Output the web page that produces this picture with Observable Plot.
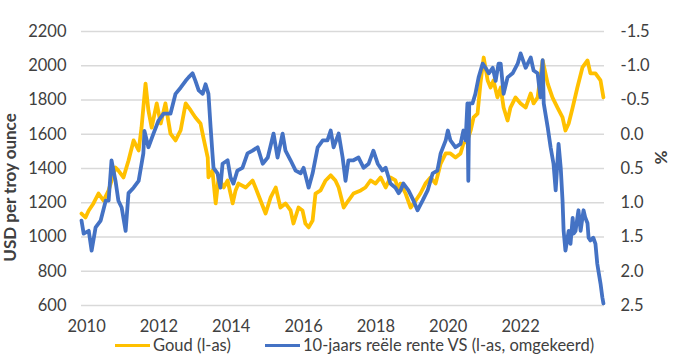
<!DOCTYPE html>
<html><head><meta charset="utf-8">
<script src="https://cdn.jsdelivr.net/npm/d3@7"></script>
<script src="https://cdn.jsdelivr.net/npm/@observablehq/plot@0.6"></script>
<style>
body{margin:0;background:#fff;font-family:Lato, sans-serif;}
#chart{position:relative;width:680px;height:360px;overflow:hidden;}
.sw{position:absolute;height:3.5px;width:35px;}
.lt{position:absolute;font-size:16.5px;color:#404040;line-height:16px;white-space:nowrap;}
</style></head><body><div id="chart"></div>
<script>
// Gold price (USD per troy ounce), x in displayed axis years
const goldYears = [2009.86,2009.97,2010.06,2010.19,2010.33,2010.47,2010.61,2010.80,2010.88,2011.02,2011.16,2011.30,2011.44,2011.52,2011.63,2011.71,2011.80,2011.94,2012.05,2012.18,2012.32,2012.46,2012.60,2012.74,2012.88,2013.01,2013.15,2013.23,2013.35,2013.37,2013.48,2013.57,2013.65,2013.79,2013.90,2014.04,2014.12,2014.20,2014.40,2014.59,2014.67,2014.81,2014.95,2015.09,2015.23,2015.36,2015.50,2015.64,2015.72,2015.86,2015.97,2016.05,2016.14,2016.25,2016.33,2016.47,2016.61,2016.75,2016.88,2016.97,2017.11,2017.24,2017.38,2017.58,2017.71,2017.85,2017.99,2018.13,2018.27,2018.40,2018.54,2018.63,2018.68,2018.82,2018.96,2019.10,2019.23,2019.37,2019.51,2019.65,2019.79,2019.93,2020.06,2020.20,2020.34,2020.42,2020.53,2020.62,2020.70,2020.81,2020.89,2020.98,2021.09,2021.17,2021.25,2021.36,2021.45,2021.53,2021.64,2021.72,2021.86,2022.00,2022.14,2022.28,2022.36,2022.47,2022.61,2022.75,2022.88,2023.02,2023.16,2023.24,2023.33,2023.44,2023.57,2023.71,2023.85,2023.93,2024.07,2024.21,2024.29];
const goldPrice = [1137,1114,1155,1196,1254,1213,1272,1406,1388,1348,1447,1564,1505,1639,1896,1739,1639,1780,1663,1780,1604,1564,1622,1780,1739,1698,1663,1581,1464,1348,1388,1196,1348,1289,1330,1196,1272,1312,1289,1330,1289,1213,1137,1231,1289,1172,1196,1155,1079,1172,1155,1079,1056,1096,1254,1272,1330,1360,1330,1289,1172,1213,1254,1272,1289,1330,1312,1348,1289,1348,1330,1272,1312,1254,1172,1213,1254,1312,1348,1312,1429,1488,1488,1464,1488,1546,1564,1622,1698,1721,1896,2048,1914,1873,1914,1815,1873,1756,1680,1756,1815,1780,1756,1838,1780,1815,2031,1896,1815,1756,1698,1622,1663,1756,1873,1990,2031,1955,1955,1914,1815];

// 10-year US real rate (%), plotted inverted on the right axis
const rateYears = [2009.86,2009.92,2010.06,2010.14,2010.25,2010.39,2010.53,2010.61,2010.69,2010.80,2010.88,2010.97,2011.08,2011.16,2011.30,2011.44,2011.57,2011.60,2011.71,2011.85,2011.99,2012.13,2012.32,2012.46,2012.60,2012.74,2012.82,2012.93,2013.01,2013.10,2013.21,2013.29,2013.37,2013.43,2013.48,2013.51,2013.62,2013.70,2013.76,2013.90,2013.98,2014.06,2014.17,2014.31,2014.45,2014.59,2014.73,2014.87,2015.01,2015.17,2015.28,2015.42,2015.50,2015.64,2015.78,2015.92,2016.00,2016.14,2016.25,2016.39,2016.53,2016.66,2016.75,2016.83,2016.97,2017.08,2017.16,2017.24,2017.38,2017.52,2017.66,2017.80,2017.93,2018.05,2018.18,2018.27,2018.40,2018.54,2018.63,2018.68,2018.76,2018.90,2019.04,2019.15,2019.29,2019.43,2019.57,2019.70,2019.79,2019.93,2019.99,2020.06,2020.20,2020.34,2020.42,2020.48,2020.53,2020.555,2020.58,2020.67,2020.75,2020.84,2020.95,2021.03,2021.12,2021.23,2021.31,2021.39,2021.45,2021.53,2021.64,2021.78,2021.92,2022.00,2022.14,2022.28,2022.36,2022.47,2022.55,2022.61,2022.64,2022.75,2022.83,2022.91,2022.97,2023.05,2023.11,2023.16,2023.19,2023.24,2023.30,2023.33,2023.38,2023.44,2023.47,2023.52,2023.57,2023.60,2023.66,2023.71,2023.74,2023.79,2023.85,2023.88,2023.93,2024.01,2024.07,2024.12,2024.15,2024.21,2024.26,2024.29,2024.32];
const rateValues = [1.26,1.45,1.41,1.70,1.36,1.26,0.97,0.97,0.38,0.68,0.97,1.07,1.41,0.86,0.78,0.68,0.28,-0.05,0.19,-0.01,-0.20,-0.30,-0.30,-0.59,-0.68,-0.78,-0.83,-0.89,-0.78,-0.64,-0.59,-0.73,-0.59,-0.10,0.28,0.49,0.57,0.78,0.43,0.38,0.63,0.72,0.53,0.49,0.28,0.24,0.19,0.43,0.34,-0.01,0.34,-0.01,0.24,0.38,0.53,0.57,0.49,0.78,0.57,0.19,0.09,0.09,-0.055,0.19,-0.01,0.34,0.68,0.38,0.38,0.34,0.49,0.43,0.24,0.43,0.53,0.49,0.72,0.78,0.86,0.82,0.72,0.82,0.97,1.11,0.97,0.82,0.57,0.53,0.28,0.09,-0.055,0.09,0.19,0.14,-0.055,0.09,-0.45,0.68,-0.45,-0.45,-0.59,-0.83,-1.03,-0.97,-0.89,-0.97,-0.78,-1.03,-1.03,-0.59,-0.83,-0.89,-1.03,-1.18,-0.97,-1.12,-0.93,-0.89,-0.54,-1.08,-0.45,-0.10,0.19,0.43,0.82,0.14,0.49,0.97,1.41,1.70,1.51,1.41,1.60,1.22,1.45,1.41,1.22,1.11,1.41,1.22,1.11,1.22,1.30,1.51,1.55,1.51,1.60,1.89,1.99,2.18,2.38,2.47];

const leftTicks = [600,800,1000,1200,1400,1600,1800,2000,2200];
const rightTickLabels = ["2.5","2.0","1.5","1.0","0.5","0.0","-0.5","-1.0","-1.5"];
const xTicks = [2010,2012,2014,2016,2018,2020,2022];
const seriesNames = ["Goud (l-as)","10-jaars reële rente VS (l-as, omgekeerd)"];
const seriesColors = ["#FFC000","#4472C4"];
const yTitle = "USD per troy ounce";
const y2Title = "%";

const gold = goldYears.map((x,i)=>({x, v: goldPrice[i]}));
const rate = rateYears.map((x,i)=>({x, v: rateValues[i]}));
// inverted right axis: -1.5% ↔ 2200, 2.5% ↔ 600
const rateToLeft = r => 2200 - (r + 1.5) * 400;

const plot = Plot.plot({
  width: 680, height: 340,
  marginLeft: 81, marginRight: 76, marginTop: 31, marginBottom: 35,
  style: {fontFamily: "Lato, sans-serif", fontSize: "16.5px", color: "#404040", background: "white", overflow: "visible"},
  x: {domain: [2009.86, 2024.32]},
  y: {domain: [600, 2200]},
  marks: [
    Plot.gridY(leftTicks, {stroke: "#d9d9d9", strokeOpacity: 1, strokeWidth: 1.3}),
    Plot.axisX(xTicks, {tickSize: 0, tickPadding: 15, tickFormat: d => String(d), label: null}),
    Plot.axisY(leftTicks, {anchor: "left", tickSize: 0, tickPadding: 15, tickFormat: d => String(d), label: null}),
    Plot.axisY(leftTicks, {anchor: "right", tickSize: 0, tickPadding: 16, tickFormat: (d, i) => rightTickLabels[i], label: null}),
    Plot.line(gold, {x: "x", y: "v", stroke: seriesColors[0], strokeWidth: 3.8, strokeLinejoin: "round"}),
    Plot.line(rate, {x: "x", y: d => rateToLeft(d.v), stroke: seriesColors[1], strokeWidth: 3.8, strokeLinejoin: "round"}),
    Plot.text([yTitle], {text: d => d, frameAnchor: "left", textAnchor: "middle", dx: -71, dy: 19, rotate: -90, fontWeight: "bold", fontSize: 17, fill: "#404040"}),
    Plot.text([y2Title], {text: d => d, frameAnchor: "right", textAnchor: "middle", dx: 56, dy: -11, rotate: 90, fontWeight: "bold", fontSize: 17, fill: "#404040"})
  ]
});
const chart = document.getElementById("chart");
chart.appendChild(plot);

const legendPos = [{sw: 115, tx: 153}, {sw: 265, tx: 303}];
seriesNames.forEach((name, i) => {
  const sw = document.createElement("div");
  sw.className = "sw";
  sw.style.left = legendPos[i].sw + "px";
  sw.style.top = "343.5px";
  sw.style.background = seriesColors[i];
  chart.appendChild(sw);
  const t = document.createElement("div");
  t.className = "lt";
  t.style.left = legendPos[i].tx + "px";
  t.style.top = "337px";
  t.textContent = name;
  chart.appendChild(t);
});
</script>
</body></html>
